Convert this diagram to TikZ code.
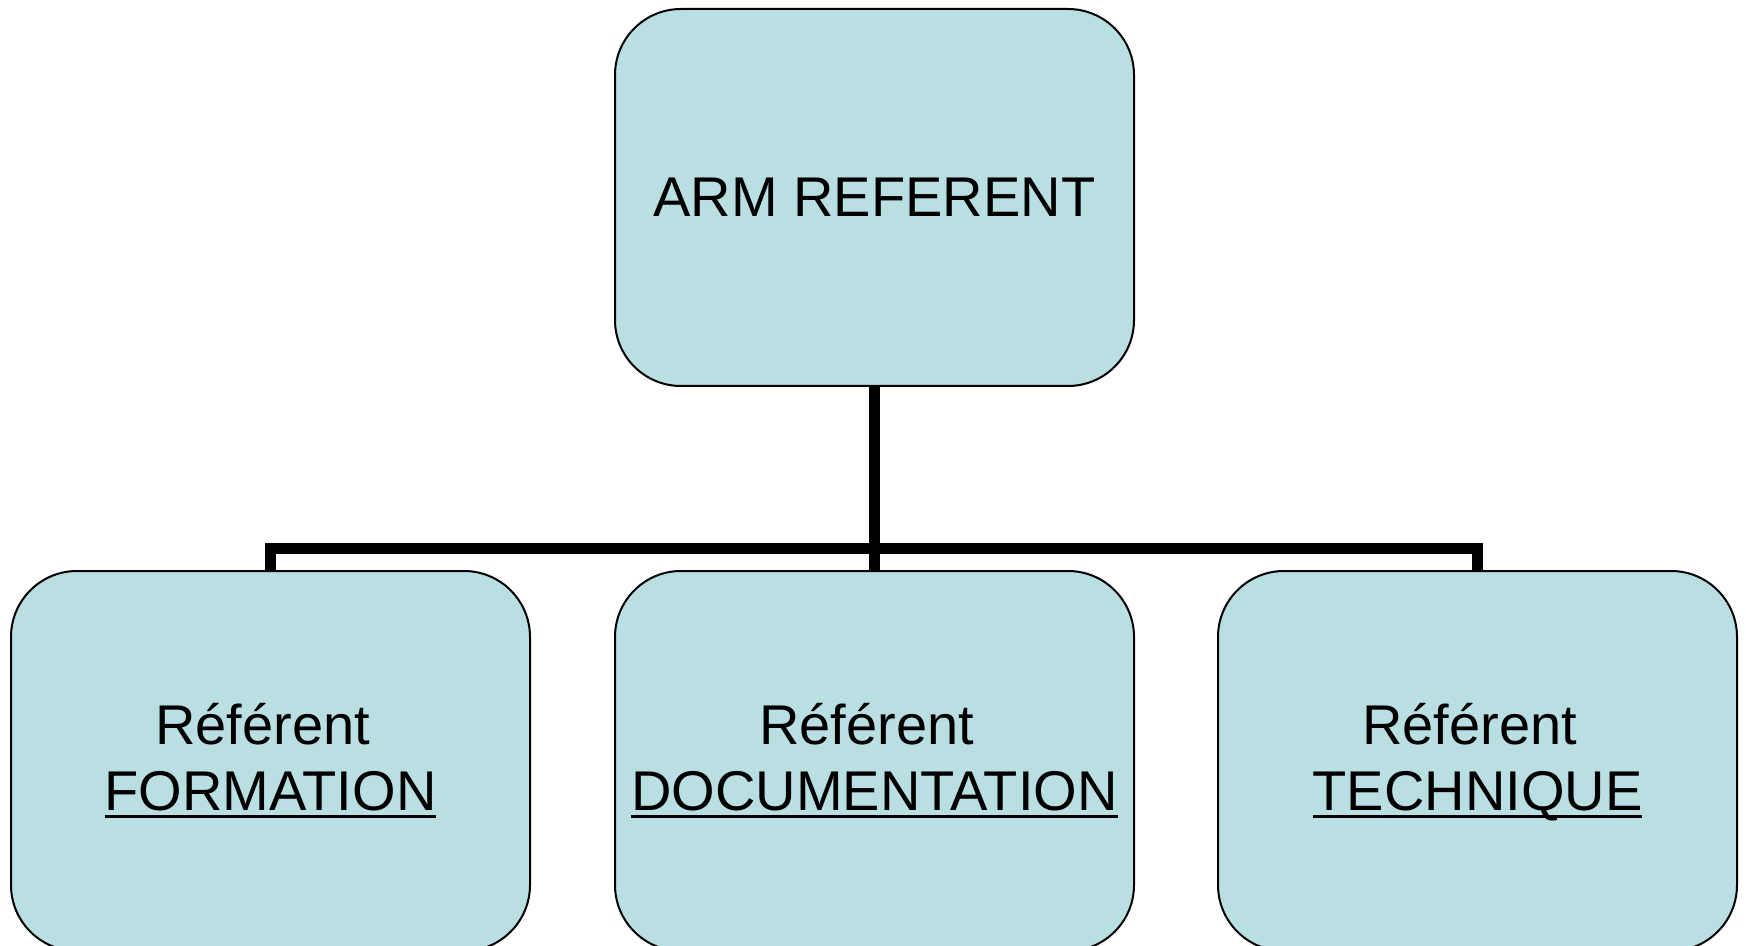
\documentclass[tikz,border=0pt]{standalone}
\usepackage{fontspec}
\setmainfont{Liberation Sans}
\newcommand{\ulword}[1]{\vtop{\hbox{\raisebox{0pt}[\height][0pt]{#1}}\kern2.2pt\hrule height 1.5pt}}
\definecolor{boxblue}{RGB}{185,223,227}

\tikzstyle{box} = [rectangle,draw=black,line width=1pt,fill=boxblue,rounded corners=33pt,minimum width=259.5pt,inner sep=0pt,outer sep=0pt,align=center,font=\fontsize{28}{33}\selectfont]
\tikzstyle{link} = [line width=5.5pt]

\begin{document}
\begin{tikzpicture}[x=0.5pt,y=-0.5pt]
	\useasboundingbox (0,0) rectangle (1746,946);

	\node[box,minimum height=188.5pt] (arm) at (874.5,197.5) {ARM REFERENT};
	\node[box,minimum height=190pt] (form) at (270.5,761) {Référent\kern0.28em\\\ulword{FORMATION}};
	\node[box,minimum height=190pt] (doc) at (874.5,761) {Référent\kern0.28em\\\ulword{DOCUMENTATION}};
	\node[box,minimum height=190pt] (tech) at (1477.5,761) {Référent\kern0.28em\\\ulword{TECHNIQUE}};

	\coordinate (bus) at (874.5,548);

	\draw[link] (arm.south) -- (doc.north);
	\draw[link] (form.north) |- (bus) -| (tech.north);
\end{tikzpicture}
\end{document}
